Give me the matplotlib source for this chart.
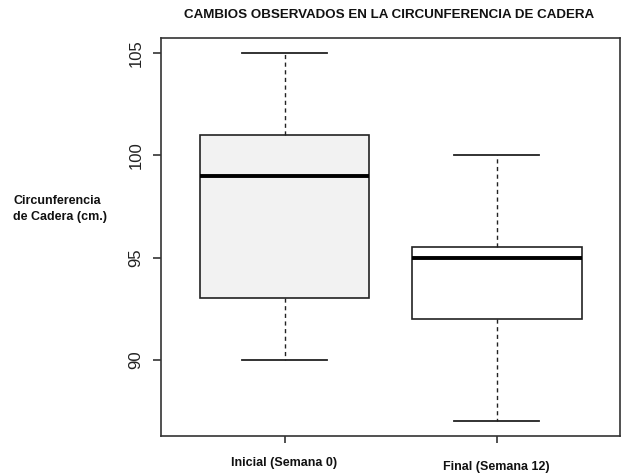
import matplotlib
matplotlib.use("Agg")
import matplotlib.pyplot as plt
import matplotlib.transforms as mtransforms

# valores (cm)
grupos = ["Inicial (Semana 0)", "Final (Semana 12)"]
whislo = [90, 87]
q1 = [93, 92]
med = [99, 95]
q3 = [101, 95.5]
whishi = [105, 100]
rellenos = ["#f2f2f2", "#ffffff"]

plt.rcParams["font.family"] = ["Liberation Sans", "DejaVu Sans"]

fig = plt.figure(figsize=(6.21, 4.75), dpi=100)
ax = fig.add_axes([0.26, 0.082, 0.738, 0.838])

stats = []
for i in range(len(grupos)):
    stats.append(dict(label=grupos[i], whislo=whislo[i], q1=q1[i], med=med[i],
                      q3=q3[i], whishi=whishi[i], fliers=[]))

pos = list(range(1, len(grupos) + 1))
bp = ax.bxp(stats, positions=pos, widths=0.8, capwidths=0.4, patch_artist=True,
            showfliers=False,
            boxprops=dict(edgecolor="#222222", linewidth=1.2),
            medianprops=dict(color="black", linewidth=2.8, solid_capstyle="butt"),
            whiskerprops=dict(color="#222222", linewidth=1.0, linestyle=(0, (3, 2.5))),
            capprops=dict(color="#222222", linewidth=1.3))
for patch, c in zip(bp["boxes"], rellenos):
    patch.set_facecolor(c)

ax.set_xlim(0.42, 2.58)
ax.set_ylim(86.28, 105.72)
ax.set_yticks([90, 95, 100, 105])
ax.set_yticklabels(["90", "95", "100", "105"], rotation=90, va="center",
                   fontsize=12, color="#222222")
ax.tick_params(axis="y", length=6, width=1.2, color="#333333", pad=7)

# etiquetas x en negrita, la segunda algo mas abajo como en el original
ax.set_xticks(pos)
ax.set_xticklabels([])
ax.tick_params(axis="x", length=5, width=1.2, color="#333333")
offsets = [0, -4]
for i, g in enumerate(grupos):
    tr = ax.get_xaxis_transform() + mtransforms.ScaledTranslation(0, (-27 + offsets[i]) / 100, fig.dpi_scale_trans)
    ax.text(pos[i], 0, g, transform=tr, ha="center", va="center",
            fontsize=9, fontweight="bold", color="#111111")

for s in ax.spines.values():
    s.set_color("#333333")
    s.set_linewidth(1.2)

fig.text(0.627, 0.968, "CAMBIOS OBSERVADOS EN LA CIRCUNFERENCIA DE CADERA",
         ha="center", va="center", fontsize=9.6, fontweight="bold", color="#111111")
fig.text(0.021, 0.561, "Circunferencia\nde Cadera (cm.)", ha="left", va="center",
         fontsize=9, fontweight="bold", color="#111111", linespacing=1.45)

fig.savefig("out.png", dpi=100)
